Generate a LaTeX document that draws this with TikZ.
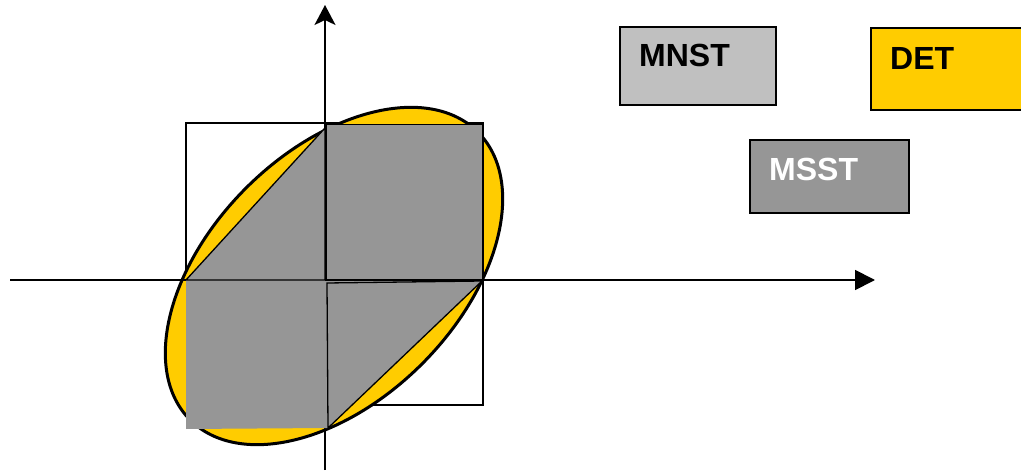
\documentclass[tikz,border=0pt]{standalone}
\usepackage{fontspec}
\setmainfont{Liberation Sans}
\usetikzlibrary{arrows.meta}
\definecolor{detyellow}{HTML}{FFCC00}
\definecolor{msstgray}{HTML}{969696}
\definecolor{mnstgray}{HTML}{C0C0C0}
\begin{document}
\begin{tikzpicture}[x=1pt,y=-1pt,
  thinline/.style={line width=1.3pt, draw=black},
  axisline/.style={line width=1.8pt, draw=black},
  msstfill/.style={fill=msstgray},
  legendbox/.style={draw=black, line width=1.8pt, inner sep=0pt, anchor=north west},
  legendtext/.style={font=\fontsize{32}{38}\selectfont\bfseries, inner sep=0pt, anchor=base west}]
\useasboundingbox (0,0) rectangle (1021,473);
% MNST square
\draw[thinline] (186,123) rectangle (483,405);
% DET ellipse
\fill[detyellow, rotate around={45:(334,276)}] (334,276) ellipse [x radius=203.5pt, y radius=124.4pt];
\draw[line width=3pt, rotate around={45:(334,276)}] (334,276) ellipse [x radius=203.5pt, y radius=124.4pt];
% axes
\coordinate (xs) at (10,280);
\coordinate (xe) at (875,280);
\coordinate (ys) at (325,470);
\coordinate (ye) at (325,5);
\draw[axisline, -{Triangle[length=20pt,width=20pt]}] (xs) -- (xe);
\draw[axisline, -{Stealth[length=20pt,width=21pt,inset=5pt]}] (ys) -- (ye);
% MSST hexagon
\fill[msstfill] (186,280) -- (325,128) -- (326,124.5) -- (483,124.5) -- (483,280)
  -- (328,428) -- (186,429) -- cycle;
\draw[thinline] (186,280) -- (325,128) -- (325,280) -- cycle;
\draw[thinline] (326,124.5) rectangle (483,280);
\draw[thinline] (327,283) -- (482,281) -- (328,428) -- cycle;
% legend
\node[legendbox, fill=mnstgray, minimum width=156pt, minimum height=78pt] (mnst) at (619,26) {};
\node[legendbox, fill=detyellow, minimum width=160pt, minimum height=82pt] (det) at (870,27) {};
\node[legendbox, fill=msstgray, minimum width=159pt, minimum height=73pt] (msst) at (749,139) {};
\node[legendtext] (mnstlabel) at (639,67) {MNST};
\node[legendtext] (detlabel) at (890,70) {DET};
\node[legendtext, text=white] (msstlabel) at (769,181) {MSST};
\end{tikzpicture}
\end{document}
